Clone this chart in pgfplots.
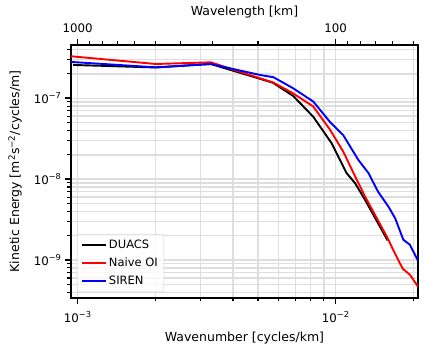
\documentclass[border=0pt]{standalone}
\usepackage{fontspec}
\setmainfont{DejaVu Sans}
\usepackage{pgfplots}
\pgfplotsset{compat=1.18}
\definecolor{gridgray}{RGB}{222,222,222}
\begin{document}
\begin{tikzpicture}
\useasboundingbox (-71pt,-54pt) rectangle (353pt,298pt);
\begin{axis}[
  at={(0pt,0pt)}, anchor=south west,
  scale only axis, width=347pt, height=253pt,
  xmode=log, ymode=log,
  xmin=0.000942, xmax=0.02085, ymin=3.4e-10, ymax=4.55e-7,
  xtick={0.001,0.01}, xticklabels={10\textsuperscript{−3},10\textsuperscript{−2}},
  minor xtick={0.002,0.003,0.004,0.005,0.006,0.007,0.008,0.009,0.02},
  ytick={1e-9,1e-8,1e-7}, yticklabels={10\textsuperscript{−9},10\textsuperscript{−8},10\textsuperscript{−7}},
  minor ytick={4e-10,5e-10,6e-10,7e-10,8e-10,9e-10,2e-9,3e-9,4e-9,5e-9,6e-9,7e-9,8e-9,9e-9,2e-8,3e-8,4e-8,5e-8,6e-8,7e-8,8e-8,9e-8,2e-7,3e-7,4e-7},
  tick pos=left, tick align=outside,
  major tick length=6pt, minor tick length=3.5pt,
  every major tick/.append style={black, line width=1.6pt},
  every minor tick/.append style={black, line width=1.1pt},
  grid=both,
  major grid style={gridgray, line width=1.4pt},
  minor grid style={gridgray, line width=1.4pt},
  axis line style={black, line width=1.8pt},
  tick label style={font=\fontsize{11.8}{13}\selectfont},
  xticklabel style={yshift=-4pt},
  label style={font=\fontsize{12.5}{14}\selectfont},
  xlabel={Wavenumber [cycles/km]},
  ylabel={Kinetic Energy [m\textsuperscript{2}s\textsuperscript{−2}/cycles/m]},
  xlabel style={at={(axis description cs:0.5,-0.158)}, anchor=center},
  ylabel style={at={(axis description cs:-0.161,0.5)}, anchor=center},
  legend cell align=left,
  legend image code/.code={\draw[#1] (0pt,0pt) -- (24pt,0pt);},
  legend style={at={(axis description cs:0.017,0.024)}, anchor=south west,
    font=\fontsize{11.5}{13}\selectfont, fill=white, fill opacity=0.8, text opacity=1,
    draw=gray!35, rounded corners=2pt, row sep=3.5pt, inner sep=4pt},
]
\addplot[black, line width=1.9pt] coordinates {
(0.00096,2.58e-7) (0.00201,2.40e-7) (0.00328,2.65e-7) (0.0057,1.56e-7)
(0.00684,1.07e-7) (0.00819,5.9e-8) (0.00963,2.8e-8) (0.0110,1.2e-8)
(0.0119,8.9e-9) (0.0130,5.55e-9) (0.0159,1.75e-9)
};
\addlegendentry{DUACS}
\addplot[red, line width=1.9pt] coordinates {
(0.000942,3.30e-7) (0.00201,2.65e-7) (0.00328,2.78e-7) (0.00574,1.56e-7)
(0.00684,1.15e-7) (0.00819,7.9e-8) (0.0095,4.1e-8) (0.0107,2.19e-8)
(0.0119,1.08e-8) (0.0130,6.1e-9) (0.0159,1.87e-9) (0.0167,1.34e-9)
(0.0182,7.8e-10) (0.0194,6.6e-10) (0.02085,4.7e-10)
};
\addlegendentry{Naive OI}
\addplot[blue, line width=1.9pt] coordinates {
(0.000942,2.81e-7) (0.00201,2.41e-7) (0.00328,2.65e-7) (0.00509,1.94e-7)
(0.00574,1.82e-7) (0.00684,1.33e-7) (0.00819,9.1e-8) (0.0095,5.1e-8)
(0.0107,3.5e-8) (0.01224,1.73e-8) (0.0134,1.19e-8) (0.0146,7.0e-9)
(0.0160,4.6e-9) (0.0170,3.3e-9) (0.0183,1.78e-9) (0.0194,1.55e-9)
(0.02085,9.8e-10)
};
\addlegendentry{SIREN}
\end{axis}
% top axis (wavelength): major tick strip with labels
\begin{axis}[
  at={(0pt,253pt)}, anchor=south west,
  scale only axis, width=347pt, height=6pt,
  xmode=log, xmin=0.000942, xmax=0.02085, ymin=0, ymax=1,
  ytick=\empty, axis line style={draw=none},
  major tick length=0pt, minor tick length=0pt,
  xmajorgrids=true,
  xtick={0.001,0.01}, xticklabels={1000,100},
  xtick pos=right, xticklabel pos=right,
  major grid style={black, line width=1.6pt},
  tick label style={font=\fontsize{11.8}{13}\selectfont},
  xticklabel style={anchor=south, yshift=2.5pt},
  label style={font=\fontsize{12.5}{14}\selectfont},
  xlabel={Wavelength [km]},
  xlabel style={at={(axis description cs:0.5,5.5)}, anchor=center},
]
\addplot[draw=none] coordinates {(0.001,0.5)};
\end{axis}
% top axis minor ticks
\begin{axis}[
  at={(0pt,253pt)}, anchor=south west,
  scale only axis, width=347pt, height=3.5pt,
  xmode=log, xmin=0.000942, xmax=0.02085, ymin=0, ymax=1,
  ytick=\empty, axis line style={draw=none},
  major tick length=0pt, minor tick length=0pt,
  xmajorgrids=true,
  xtick={0.00111111,0.00125,0.00142857,0.00166667,0.002,0.0025,0.00333333,0.005,0.0111111,0.0125,0.0142857,0.0166667,0.02},
  xticklabels={},
  major grid style={black, line width=1.1pt},
]
\addplot[draw=none] coordinates {(0.001,0.5)};
\end{axis}
% bottom major ticks
\begin{axis}[
  at={(0pt,0pt)}, anchor=north west,
  scale only axis, width=347pt, height=6pt,
  xmode=log, xmin=0.000942, xmax=0.02085, ymin=0, ymax=1,
  ytick=\empty, axis line style={draw=none},
  major tick length=0pt, minor tick length=0pt,
  xmajorgrids=true,
  xtick={0.001,0.01}, xticklabels={},
  major grid style={black, line width=1.6pt},
]
\addplot[draw=none] coordinates {(0.001,0.5)};
\end{axis}
% bottom minor ticks
\begin{axis}[
  at={(0pt,0pt)}, anchor=north west,
  scale only axis, width=347pt, height=3.5pt,
  xmode=log, xmin=0.000942, xmax=0.02085, ymin=0, ymax=1,
  ytick=\empty, axis line style={draw=none},
  major tick length=0pt, minor tick length=0pt,
  xmajorgrids=true,
  xtick={0.002,0.003,0.004,0.005,0.006,0.007,0.008,0.009,0.02}, xticklabels={},
  major grid style={black, line width=1.1pt},
]
\addplot[draw=none] coordinates {(0.001,0.5)};
\end{axis}
\end{tikzpicture}
\end{document}
